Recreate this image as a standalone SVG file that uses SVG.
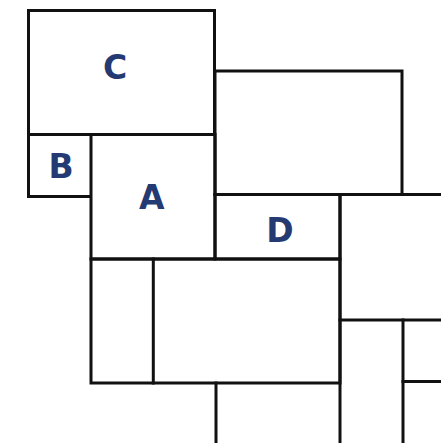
<svg xmlns="http://www.w3.org/2000/svg" width="441" height="443" viewBox="0 0 441 443">
<style>
.ln{fill:none;stroke:#111;stroke-width:3;stroke-linecap:square}
.lbl{font-family:"DejaVu Sans",sans-serif;font-weight:bold;font-size:33px;fill:#243a72;text-anchor:middle}
</style>
<rect width="441" height="443" fill="#fff"/>
<g id="connectors">
<polyline class="ln" points="28.5,134.5 28.5,196.5 90,196.5"/>
<line class="ln" x1="215" y1="194.5" x2="441" y2="194.5"/>
<line class="ln" x1="340" y1="194.5" x2="340" y2="443"/>
<line class="ln" x1="340" y1="320" x2="441" y2="320"/>
<line class="ln" x1="403" y1="320" x2="403" y2="443"/>
<line class="ln" x1="403" y1="381.5" x2="441" y2="381.5"/>
<line class="ln" x1="216" y1="383" x2="216" y2="443"/>
</g>
<g id="node-C">
<rect class="ln" x="28.5" y="10.5" width="186" height="124"/>
<text class="lbl" x="115" y="79">C</text>
</g>
<g id="node-topright">
<rect class="ln" x="215" y="71" width="187" height="123.5"/>
</g>
<g id="node-B">
<text class="lbl" x="61" y="177.7">B</text>
</g>
<g id="node-A">
<rect class="ln" x="91" y="134.5" width="124" height="124.5"/>
<text class="lbl" x="151.7" y="209">A</text>
</g>
<g id="node-D">
<rect class="ln" x="215" y="194.5" width="125" height="64.5"/>
<text class="lbl" x="280" y="241.7">D</text>
</g>
<g id="node-bottom">
<rect class="ln" x="91" y="259" width="249" height="124"/>
<line class="ln" x1="153.3" y1="259" x2="153.3" y2="383"/>
</g>
</svg>
